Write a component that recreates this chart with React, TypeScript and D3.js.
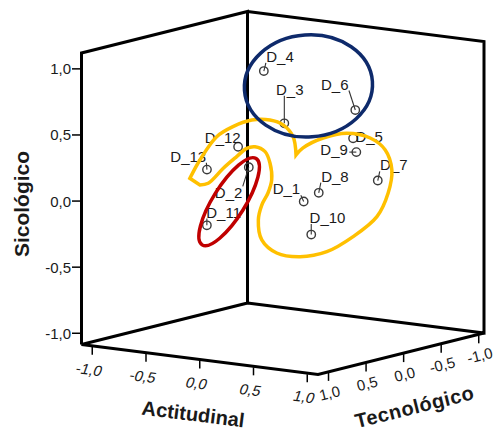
import React from 'react';
import * as d3 from 'd3';

// ---------------- data ----------------
const POINT_NAMES = ['D_1', 'D_2', 'D_3', 'D_4', 'D_5', 'D_6', 'D_7', 'D_8', 'D_9', 'D_10', 'D_11', 'D_12', 'D_13'];
const ACTITUDINAL = [0.38, -0.48, 0.06, -0.41, 0.56, 0.79, 0.58, 0.52, 0.66, 0.59, -0.87, -0.30, -0.45];
const TECNOLOGICO = [0.30, -0.20, 0.10, -0.30, -0.10, 0.20, -0.40, 0.30, 0.00, 0.50, -0.20, 0.20, 0.40];
const SICOLOGICO = [0.03, 0.13, 0.56, 0.85, 0.47, 0.75, 0.11, 0.11, 0.39, -0.17, -0.35, 0.36, 0.20];

const TICKS = [-1, -0.5, 0, 0.5, 1];
const TITLE_ACTITUDINAL = 'Actitudinal';
const TITLE_TECNOLOGICO = 'Tecnológico';
const TITLE_SICOLOGICO = 'Sicológico';

// annotation outlines, in Sicológico units on the picture plane
const YELLOW_UPPER: [number, number][] = [
  [-0.436, 0.172], [-0.36, 0.311], [-0.233, 0.487], [-0.11, 0.563], [0.032, 0.613],
  [0.17, 0.613], [0.269, 0.576], [0.345, 0.487], [0.367, 0.349],
];
const YELLOW_LOWER: [number, number][] = [
  [0.367, 0.349], [0.42, 0.402], [0.572, 0.477], [0.752, 0.513], [0.928, 0.477],
  [1.042, 0.387], [1.092, 0.235], [1.064, 0.061], [0.979, -0.118], [0.799, -0.269],
  [0.6, -0.383], [0.398, -0.421], [0.221, -0.393], [0.108, -0.294], [0.082, -0.143],
  [0.108, -0.03], [0.155, 0.061], [0.183, 0.16], [0.17, 0.288], [0.133, 0.374],
  [0.057, 0.411], [-0.006, 0.399], [-0.082, 0.336], [-0.183, 0.248], [-0.297, 0.135],
  [-0.36, 0.122],
];
const BLUE_ELLIPSE = { cx: 0.461, cy: 0.871, rx: 0.485, ry: 0.386, angle: -4 };
const RED_ELLIPSE = { cx: -0.139, cy: -0.005, rx: 0.385, ry: 0.122, angle: -58 };

// ---------------- layout ----------------
const W = 494;
const H = 431;
const A_DOM: [number, number] = [-1.1, 1.1];
const T_DOM: [number, number] = [-1.07, 1.14];
const S_DOM: [number, number] = [-1.085, 1.12];
const ORIGIN = { x: 247.5, y: 303 };
const VA = { x: 236.5, y: 30 };
const VT = { x: -166, y: 41.5 };
const VS = { x: 0, y: -291.5 };

const LABEL_OFFSETS: Record<string, [number, number]> = {
  D_1: [-31, -12.7], D_2: [-34, 25.7], D_3: [-8.3, -34], D_4: [2.4, -14.7],
  D_5: [2.3, -1.7], D_6: [-34.3, -26], D_7: [2.3, -15.7], D_8: [2.4, -16.6],
  D_9: [-36, -2.7], D_10: [-1.7, -17], D_11: [-0.6, -13.3], D_12: [-33.3, -9.4],
  D_13: [-36.6, -13.3],
};

const FONT = '"Liberation Sans", Arial, Helvetica, sans-serif';
const TEXT_COLOR = '#1a1a1a';
const FS = 15;

const ua = d3.scaleLinear().domain(A_DOM).range([0, 1]);
const ut = d3.scaleLinear().domain(T_DOM).range([0, 1]);
const us = d3.scaleLinear().domain(S_DOM).range([0, 1]);

function project(a: number, t: number, s: number): [number, number] {
  const p = ua(a), q = ut(t), r = us(s);
  return [
    ORIGIN.x + p * VA.x + q * VT.x + r * VS.x,
    ORIGIN.y + p * VA.y + q * VT.y + r * VS.y,
  ];
}

const fmt = d3
  .formatLocale({ decimal: ',', thousands: '.', grouping: [3], currency: ['', ''], minus: '-' })
  .format('.1f');

// picture-plane scales for annotations (same units as Sicológico ticks)
const yTick = (s: number) => project(A_DOM[0], T_DOM[1], s)[1];
const pxPerUnit = yTick(0) - yTick(1);
const annX = d3.scaleLinear().domain([0, 1]).range([ORIGIN.x, ORIGIN.x + pxPerUnit]);
const annY = d3.scaleLinear().domain([0, 1]).range([yTick(0), yTick(1)]);

function textWidth(s: string, size: number) {
  let w = 0;
  for (const ch of s) {
    if (ch === 'D') w += 0.722;
    else w += 0.556;
  }
  return w * size;
}

export default function App() {
  const [aMin, aMax] = A_DOM;
  const [tMin, tMax] = T_DOM;
  const [sMin, sMax] = S_DOM;
  const Bb = project(aMin, tMin, sMin);
  const Lb = project(aMin, tMax, sMin);
  const Fb = project(aMax, tMax, sMin);
  const Rb = project(aMax, tMin, sMin);
  const Bt = project(aMin, tMin, sMax);
  const Lt = project(aMin, tMax, sMax);
  const Rt = project(aMax, tMin, sMax);

  const poly = (pts: [number, number][]) => 'M' + pts.map((p) => p.join(',')).join('L');

  const angA = (Math.atan2(VA.y, VA.x) * 180) / Math.PI;
  const angT = (Math.atan2(-VT.y, -VT.x) * 180) / Math.PI;

  const line = d3
    .line<[number, number]>()
    .x((d) => annX(d[0]))
    .y((d) => annY(d[1]))
    .curve(d3.curveCatmullRom.alpha(0.5));
  const upper = line(YELLOW_UPPER) || '';
  const lower = (line(YELLOW_LOWER) || '').replace(/^M/, 'L');
  const yellowPath = upper + lower + 'Z';

  const points = POINT_NAMES.map((name, i) => {
    const [x, y] = project(ACTITUDINAL[i], TECNOLOGICO[i], SICOLOGICO[i]);
    return { name, x, y };
  });

  const actMid = project((aMin + aMax) / 2, tMax, sMin);
  const tecMid = project(aMax, (tMin + tMax) / 2, sMin);

  return (
    <svg
      width={W}
      height={H}
      style={{ position: 'absolute', left: 0, top: 0, background: '#fff' }}
      fontFamily={FONT}
    >
      <rect x={0} y={0} width={W} height={H} fill="#fff" />
      {/* box */}
      <g fill="none" stroke="#000" strokeWidth={3} strokeLinejoin="miter">
        <path d={poly([Lb, Lt, Bt, Bb, Lb])} />
        <path d={poly([Bb, Rb, Rt, Bt])} />
        <path d={poly([Lb, Fb, Rb])} />
      </g>

      {/* Sicológico axis */}
      {TICKS.map((v) => {
        const [x, y] = project(aMin, tMax, v);
        return (
          <g key={'s' + v}>
            <line x1={x - 9.5} x2={x} y1={y} y2={y} stroke="#000" strokeWidth={1.5} />
            <text x={x - 10.5} y={y} fontSize={FS} textAnchor="end" dominantBaseline="central" fill={TEXT_COLOR}>
              {fmt(v)}
            </text>
          </g>
        );
      })}
      <text
        transform={`translate(${21},${204}) rotate(-90)`}
        fontSize={21}
        fontWeight="bold"
        textAnchor="middle"
        dominantBaseline="central"
        fill={TEXT_COLOR}
      >
        {TITLE_SICOLOGICO}
      </text>

      {/* Actitudinal axis */}
      {TICKS.map((v) => {
        const [x, y] = project(v, tMax, sMin);
        return (
          <g key={'a' + v}>
            <line x1={x} x2={x} y1={y + 1} y2={y + 9} stroke="#000" strokeWidth={1.5} />
            <text
              transform={`translate(${x - 3},${y + 23.5}) rotate(${angA}) skewX(-12)`}
              fontSize={FS}
              textAnchor="middle"
              dominantBaseline="central"
              fill={TEXT_COLOR}
            >
              {fmt(v)}
            </text>
          </g>
        );
      })}
      <text
        transform={`translate(${actMid[0] - 6.5},${actMid[1] + 54.5}) rotate(${angA})`}
        fontSize={20}
        fontWeight="bold"
        textAnchor="middle"
        dominantBaseline="central"
        fill={TEXT_COLOR}
      >
        {TITLE_ACTITUDINAL}
      </text>

      {/* Tecnológico axis */}
      {TICKS.map((v) => {
        const [x, y] = project(aMax, v, sMin);
        return (
          <g key={'t' + v}>
            <line x1={x} x2={x} y1={y + 1} y2={y + 9} stroke="#000" strokeWidth={1.5} />
            <text
              transform={`translate(${x + 1},${y + 21}) rotate(${angT})`}
              fontSize={FS}
              textAnchor="middle"
              dominantBaseline="central"
              fill={TEXT_COLOR}
            >
              {fmt(v)}
            </text>
          </g>
        );
      })}
      <text
        transform={`translate(${tecMid[0] + 13.5},${tecMid[1] + 53}) rotate(${angT})`}
        fontSize={20}
        fontWeight="bold"
        textAnchor="middle"
        dominantBaseline="central"
        fill={TEXT_COLOR}
        letterSpacing={0.5}
      >
        {TITLE_TECNOLOGICO}
      </text>

      {/* points, leaders and labels */}
      {points.map((p) => {
        const [dx, dy] = LABEL_OFFSETS[p.name];
        const lx = p.x + dx;
        const cy = p.y + dy;
        const w = textWidth(p.name, FS);
        const ax = Math.max(lx, Math.min(lx + w, p.x));
        const ay = Math.max(cy - 5, Math.min(cy + 5, p.y));
        const dist = Math.hypot(p.x - ax, p.y - ay);
        const ang = Math.atan2(p.y - ay, p.x - ax);
        const sx = ax + Math.cos(ang) * 1.5;
        const sy = ay + Math.sin(ang) * 1.5;
        return (
          <g key={p.name}>
            {dist > 5 && (
              <line x1={sx} y1={sy} x2={p.x} y2={p.y} stroke="#333" strokeWidth={1.1} />
            )}
            <circle cx={p.x} cy={p.y} r={4.2} fill="none" stroke="#3a3a3a" strokeWidth={1.4} />
            <text x={lx} y={cy} fontSize={FS} dominantBaseline="central" fill={TEXT_COLOR}>
              {p.name}
            </text>
          </g>
        );
      })}

      {/* annotations */}
      <path d={yellowPath} fill="none" stroke="#FFC000" strokeWidth={3.5} strokeLinejoin="miter" />
      <ellipse
        cx={annX(RED_ELLIPSE.cx)}
        cy={annY(RED_ELLIPSE.cy)}
        rx={RED_ELLIPSE.rx * pxPerUnit}
        ry={RED_ELLIPSE.ry * pxPerUnit}
        transform={`rotate(${RED_ELLIPSE.angle},${annX(RED_ELLIPSE.cx)},${annY(RED_ELLIPSE.cy)})`}
        fill="none"
        stroke="#C00000"
        strokeWidth={3.5}
      />
      <ellipse
        cx={annX(BLUE_ELLIPSE.cx)}
        cy={annY(BLUE_ELLIPSE.cy)}
        rx={BLUE_ELLIPSE.rx * pxPerUnit}
        ry={BLUE_ELLIPSE.ry * pxPerUnit}
        transform={`rotate(${BLUE_ELLIPSE.angle},${annX(BLUE_ELLIPSE.cx)},${annY(BLUE_ELLIPSE.cy)})`}
        fill="none"
        stroke="#0E2A6B"
        strokeWidth={3.5}
      />
    </svg>
  );
}
